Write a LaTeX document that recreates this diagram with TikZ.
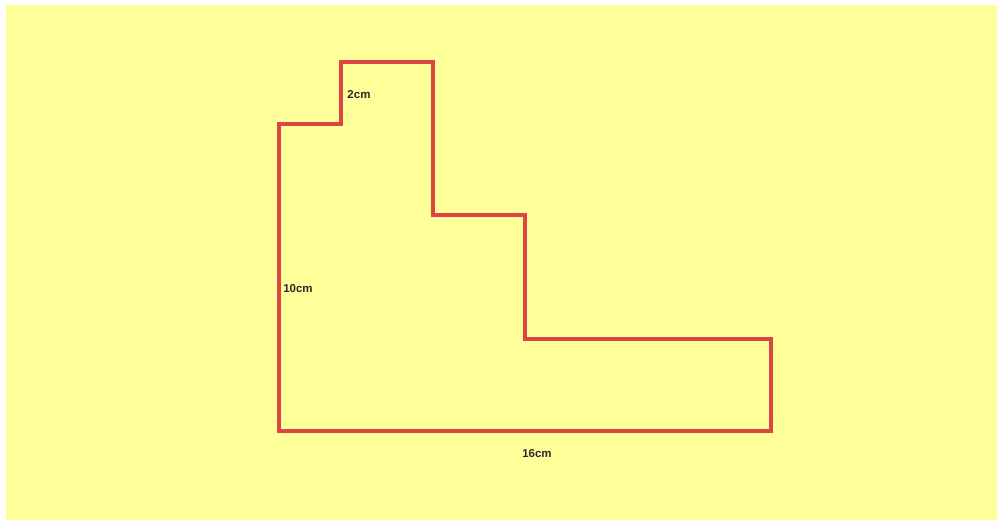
\documentclass[tikz,border=0pt]{standalone}
\usepackage{fontspec}
\setmainfont{Liberation Sans}
\definecolor{bgyellow}{HTML}{FFFF99}
\definecolor{shapered}{HTML}{DD4444}
\definecolor{labelgray}{HTML}{2A2A2A}
\begin{document}
\begin{tikzpicture}[x=1pt,y=-1pt,
  outline/.style={draw=shapered,line width=4pt,line join=miter},
  lbl/.style={font=\bfseries\fontsize{11.5}{13}\selectfont,text=labelgray,inner sep=0pt}]
\useasboundingbox (0,0) rectangle (999,520);
\fill[white] (0,0) rectangle (999,520);
\fill[bgyellow] (6,5) rectangle (997,520);
\coordinate (p1) at (279,124);
\coordinate (p2) at (341,124);
\coordinate (p3) at (341,62);
\coordinate (p4) at (433,62);
\coordinate (p5) at (433,215);
\coordinate (p6) at (525,215);
\coordinate (p7) at (525,339);
\coordinate (p8) at (771,339);
\coordinate (p9) at (771,431);
\coordinate (p10) at (279,431);
\draw[outline] (p1) -- (p2) -- (p3) -- (p4) -- (p5) -- (p6) -- (p7) -- (p8) -- (p9) -- (p10) -- cycle;
\node[lbl] (l2) at (359,95) {2cm};
\node[lbl] (l10) at (298,289) {10cm};
\node[lbl] (l16) at (537,454) {16cm};
\end{tikzpicture}
\end{document}
